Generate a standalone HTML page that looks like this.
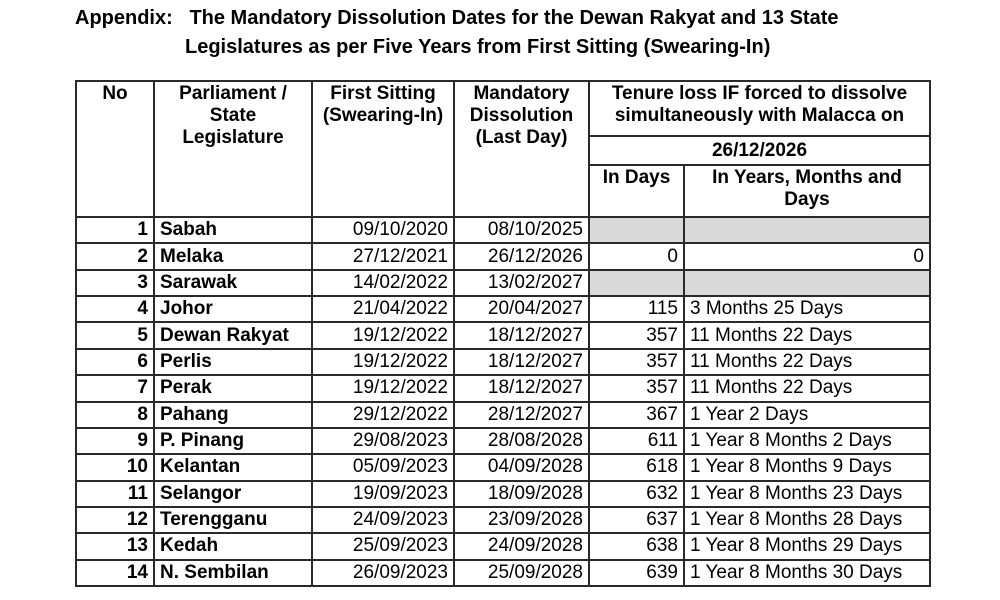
<!DOCTYPE html>
<html><head><meta charset="utf-8"><style>
body{margin:0;width:1000px;height:600px;background:#fff;font-family:"Liberation Sans",Arial,sans-serif;color:#000;position:relative;overflow:hidden}
.t{position:absolute;font-weight:bold;font-size:20px;white-space:nowrap}
table{position:absolute;left:75px;top:80px;border-collapse:collapse;table-layout:fixed}
td{border:2px solid #2a2a2a;padding:0 5px;font-size:19px;line-height:22px;height:24.36px;white-space:nowrap;overflow:hidden}
.h td{font-weight:bold;text-align:center;vertical-align:top;padding-top:1px}
.n{font-weight:bold;text-align:right}
.b{font-weight:bold}
.r{text-align:right}
.g{background:#d9d9d9}
</style></head><body>
<div class="t" style="left:75px;top:7px">Appendix:&nbsp;&nbsp; The Mandatory Dissolution Dates for the Dewan Rakyat and 13 State</div>
<div class="t" style="left:185px;top:36px">Legislatures as per Five Years from First Sitting (Swearing-In)</div>
<table>
<colgroup><col style="width:78px"><col style="width:158px"><col style="width:142px"><col style="width:135px"><col style="width:95px"><col style="width:246px"></colgroup>
<tr class="h"><td rowspan="3" style="height:133px">No</td><td rowspan="3">Parliament /<br>State<br>Legislature</td><td rowspan="3">First Sitting<br>(Swearing-In)</td><td rowspan="3">Mandatory<br>Dissolution<br>(Last Day)</td><td colspan="2" style="height:51px">Tenure loss IF forced to dissolve<br>simultaneously with Malacca on</td></tr>
<tr class="h"><td colspan="2" style="height:26px;vertical-align:middle;padding-top:0">26/12/2026</td></tr>
<tr class="h"><td style="height:48px">In Days</td><td>In Years, Months and<br>Days</td></tr>
<tr><td class="n">1</td><td class="b">Sabah</td><td class="r">09/10/2020</td><td class="r">08/10/2025</td><td class="g"></td><td class="g"></td></tr>
<tr><td class="n">2</td><td class="b">Melaka</td><td class="r">27/12/2021</td><td class="r">26/12/2026</td><td class="r">0</td><td class="r">0</td></tr>
<tr><td class="n">3</td><td class="b">Sarawak</td><td class="r">14/02/2022</td><td class="r">13/02/2027</td><td class="g"></td><td class="g"></td></tr>
<tr><td class="n">4</td><td class="b">Johor</td><td class="r">21/04/2022</td><td class="r">20/04/2027</td><td class="r">115</td><td>3 Months 25 Days</td></tr>
<tr><td class="n">5</td><td class="b">Dewan Rakyat</td><td class="r">19/12/2022</td><td class="r">18/12/2027</td><td class="r">357</td><td>11 Months 22 Days</td></tr>
<tr><td class="n">6</td><td class="b">Perlis</td><td class="r">19/12/2022</td><td class="r">18/12/2027</td><td class="r">357</td><td>11 Months 22 Days</td></tr>
<tr><td class="n">7</td><td class="b">Perak</td><td class="r">19/12/2022</td><td class="r">18/12/2027</td><td class="r">357</td><td>11 Months 22 Days</td></tr>
<tr><td class="n">8</td><td class="b">Pahang</td><td class="r">29/12/2022</td><td class="r">28/12/2027</td><td class="r">367</td><td>1 Year 2 Days</td></tr>
<tr><td class="n">9</td><td class="b">P. Pinang</td><td class="r">29/08/2023</td><td class="r">28/08/2028</td><td class="r">611</td><td>1 Year 8 Months 2 Days</td></tr>
<tr><td class="n">10</td><td class="b">Kelantan</td><td class="r">05/09/2023</td><td class="r">04/09/2028</td><td class="r">618</td><td>1 Year 8 Months 9 Days</td></tr>
<tr><td class="n">11</td><td class="b">Selangor</td><td class="r">19/09/2023</td><td class="r">18/09/2028</td><td class="r">632</td><td>1 Year 8 Months 23 Days</td></tr>
<tr><td class="n">12</td><td class="b">Terengganu</td><td class="r">24/09/2023</td><td class="r">23/09/2028</td><td class="r">637</td><td>1 Year 8 Months 28 Days</td></tr>
<tr><td class="n">13</td><td class="b">Kedah</td><td class="r">25/09/2023</td><td class="r">24/09/2028</td><td class="r">638</td><td>1 Year 8 Months 29 Days</td></tr>
<tr><td class="n">14</td><td class="b">N. Sembilan</td><td class="r">26/09/2023</td><td class="r">25/09/2028</td><td class="r">639</td><td>1 Year 8 Months 30 Days</td></tr>
</table>
</body></html>
